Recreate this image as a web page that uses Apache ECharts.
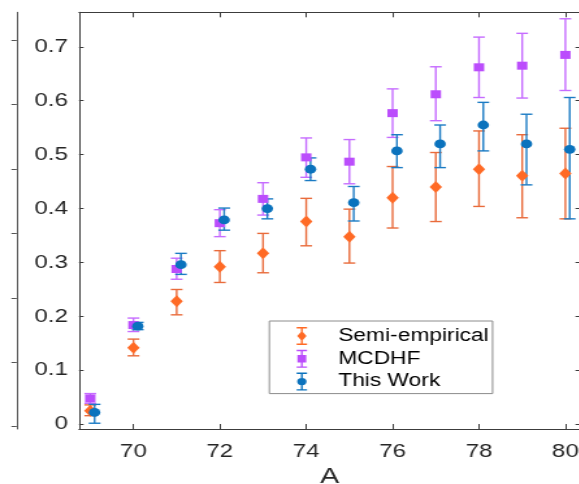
<!DOCTYPE html>
<html>
<head>
<meta charset="utf-8">
<script src="https://cdn.jsdelivr.net/npm/echarts@6/dist/echarts.min.js"></script>
<style>
html, body { margin: 0; padding: 0; background: #fff; overflow: hidden; }
/* the reference picture is stretched sideways, so the chart is too */
#chart { width: 446px; height: 484px; transform: scaleX(1.3); transform-origin: 0 0; }
</style>
</head>
<body>
<div id="chart"></div>
<script>
// mass number A
var massNumbers = [69, 70, 71, 72, 73, 74, 75, 76, 77, 78, 79, 80];

// Semi-empirical
var semiValue = [0.025, 0.142, 0.228, 0.292, 0.317, 0.376, 0.348, 0.420, 0.440, 0.473, 0.461, 0.465];
var semiLow   = [0.016, 0.127, 0.203, 0.263, 0.281, 0.331, 0.299, 0.364, 0.376, 0.404, 0.383, 0.381];
var semiHigh  = [0.036, 0.158, 0.250, 0.322, 0.354, 0.419, 0.399, 0.478, 0.504, 0.544, 0.537, 0.549];

// MCDHF
var mcdhfValue = [0.048, 0.184, 0.288, 0.373, 0.418, 0.495, 0.487, 0.577, 0.612, 0.662, 0.665, 0.685];
var mcdhfLow   = [0.039, 0.172, 0.269, 0.348, 0.388, 0.458, 0.446, 0.532, 0.563, 0.606, 0.605, 0.619];
var mcdhfHigh  = [0.057, 0.197, 0.308, 0.398, 0.448, 0.531, 0.528, 0.622, 0.663, 0.718, 0.725, 0.752];

// This Work
var workValue = [0.022, 0.182, 0.296, 0.379, 0.400, 0.473, 0.411, 0.507, 0.520, 0.555, 0.520, 0.510];
var workLow   = [0.002, 0.1755, 0.278, 0.360, 0.381, 0.452, 0.377, 0.476, 0.476, 0.507, 0.444, 0.381];
var workHigh  = [0.037, 0.189, 0.317, 0.401, 0.418, 0.494, 0.441, 0.537, 0.555, 0.597, 0.575, 0.606];

var xTicks = [70, 72, 74, 76, 78, 80];
var yTicks = [0, 0.1, 0.2, 0.3, 0.4, 0.5, 0.6, 0.7];
var sideTicks = [0, 1, 2, 3, 4, 5, 6];

var FONT = "'Liberation Sans', Arial, sans-serif";
var AXIS_COLOR = '#3c3c3c';

function points(values, shift) {
    return massNumbers.map(function (a, i) { return [a + shift, values[i]]; });
}
function bars(low, high, shift) {
    return massNumbers.map(function (a, i) { return [a + shift, low[i], high[i]]; });
}

// error bar: stem plus two caps
function errorBar(color) {
    return function (params, api) {
        var top = api.coord([api.value(0), api.value(2)]);
        var bot = api.coord([api.value(0), api.value(1)]);
        var hw = 4.5;
        var st = { stroke: color, lineWidth: 1.4 };
        return {
            type: 'group',
            children: [
                { type: 'line', shape: { x1: top[0], y1: top[1], x2: bot[0], y2: bot[1] }, style: st },
                { type: 'line', shape: { x1: top[0] - hw, y1: top[1], x2: top[0] + hw, y2: top[1] }, style: st },
                { type: 'line', shape: { x1: bot[0] - hw, y1: bot[1], x2: bot[0] + hw, y2: bot[1] }, style: st }
            ]
        };
    };
}

// legend glyphs: whisker + marker in an 8x18 box
var whisker = 'M0 0 H8 V1.4 H0 Z M0 16.6 H8 V18 H0 Z M3.3 0 H4.7 V18 H3.3 Z ';
var iconSemi = 'path://' + whisker + 'M4 4 L7.6 9 L4 14 L0.4 9 Z';
var iconMcdhf = 'path://' + whisker + 'M0.6 5.2 H7.4 V12.8 H0.6 Z';
var iconWork = 'path://' + whisker + 'M4 5.4 A3.6 3.6 0 1 1 4 12.6 A3.6 3.6 0 1 1 4 5.4 Z';

var chart = echarts.init(document.getElementById('chart'));

var mainX = {
    type: 'value', min: 68.74, max: 80.34, gridIndex: 0,
    splitLine: { show: false },
    axisLine: { onZero: false, lineStyle: { color: AXIS_COLOR, width: 1 } },
    axisTick: { inside: true, length: 5, customValues: xTicks, lineStyle: { color: AXIS_COLOR } }
};
var mainY = {
    type: 'value', min: -0.0087, max: 0.764, gridIndex: 0,
    splitLine: { show: false },
    axisLine: { onZero: false, lineStyle: { color: AXIS_COLOR, width: 1 } },
    axisTick: { inside: true, length: 3.5, customValues: yTicks, lineStyle: { color: AXIS_COLOR } }
};

chart.setOption({
    backgroundColor: '#fff',
    animation: false,
    grid: [
        { left: 60.8, top: 12.3, width: 385.4, height: 416.7, containLabel: false, outerBoundsMode: 'none' },
        { left: 12.8, top: 12.3, width: 0.5, height: 416.7, containLabel: false, outerBoundsMode: 'none' }
    ],
    xAxis: [
        Object.assign({}, mainX, {
            position: 'bottom',
            axisLabel: { customValues: xTicks, fontSize: 18.5, color: '#262626', fontFamily: FONT, margin: 13 },
            name: 'A', nameLocation: 'middle', nameGap: 37,
            nameTextStyle: { fontSize: 22, color: '#262626', fontFamily: FONT }
        }),
        Object.assign({}, mainX, { position: 'top', axisLabel: { show: false } }),
        { type: 'value', gridIndex: 1, show: false, min: 0, max: 1 }
    ],
    yAxis: [
        Object.assign({}, mainY, {
            position: 'left',
            axisLabel: { customValues: yTicks, fontSize: 18.5, color: '#262626', fontFamily: FONT, margin: 8.5 }
        }),
        Object.assign({}, mainY, { position: 'right', axisLabel: { show: false } }),
        {
            type: 'value', gridIndex: 1, min: -0.036, max: 6.43,
            splitLine: { show: false },
            axisLine: { onZero: false, lineStyle: { color: '#555', width: 1 } },
            axisTick: { inside: false, length: 4, customValues: sideTicks, lineStyle: { color: '#555' } },
            axisLabel: { show: false }
        }
    ],
    legend: {
        orient: 'vertical',
        left: 207.2, top: 321,
        padding: [6, 3, 3, 21],
        itemGap: 4.8, itemWidth: 8, itemHeight: 18,
        backgroundColor: '#fff',
        borderColor: '#8c8c8c', borderWidth: 1,
        textStyle: { fontSize: 17.5, color: '#000', fontFamily: FONT, padding: [0, 0, 0, 19] },
        data: [
            { name: 'Semi-empirical', icon: iconSemi, itemStyle: { color: '#ff6a25' } },
            { name: 'MCDHF', icon: iconMcdhf, itemStyle: { color: '#bb4dfc' } },
            { name: 'This Work', icon: iconWork, itemStyle: { color: '#0a72bd' } }
        ]
    },
    series: [
        { name: 'Semi-empirical', type: 'custom', renderItem: errorBar('#e96b3b'), data: bars(semiLow, semiHigh, 0), itemStyle: { color: '#ff6a25' } },
        { name: 'Semi-empirical', type: 'scatter', symbol: 'diamond', symbolSize: [9.5, 12], data: points(semiValue, 0), itemStyle: { color: '#ff6a25', opacity: 1 } },
        { name: 'MCDHF', type: 'custom', renderItem: errorBar('#c66cff'), data: bars(mcdhfLow, mcdhfHigh, 0), itemStyle: { color: '#bb4dfc' } },
        { name: 'MCDHF', type: 'scatter', symbol: 'rect', symbolSize: 8, data: points(mcdhfValue, 0), itemStyle: { color: '#bb4dfc', opacity: 1 } },
        { name: 'This Work', type: 'custom', renderItem: errorBar('#1b7bc4'), data: bars(workLow, workHigh, 0.1), itemStyle: { color: '#0a72bd' } },
        { name: 'This Work', type: 'scatter', symbol: 'circle', symbolSize: 8.8, data: points(workValue, 0.1), itemStyle: { color: '#0a72bd', opacity: 1 } }
    ]
});
</script>
</body>
</html>
